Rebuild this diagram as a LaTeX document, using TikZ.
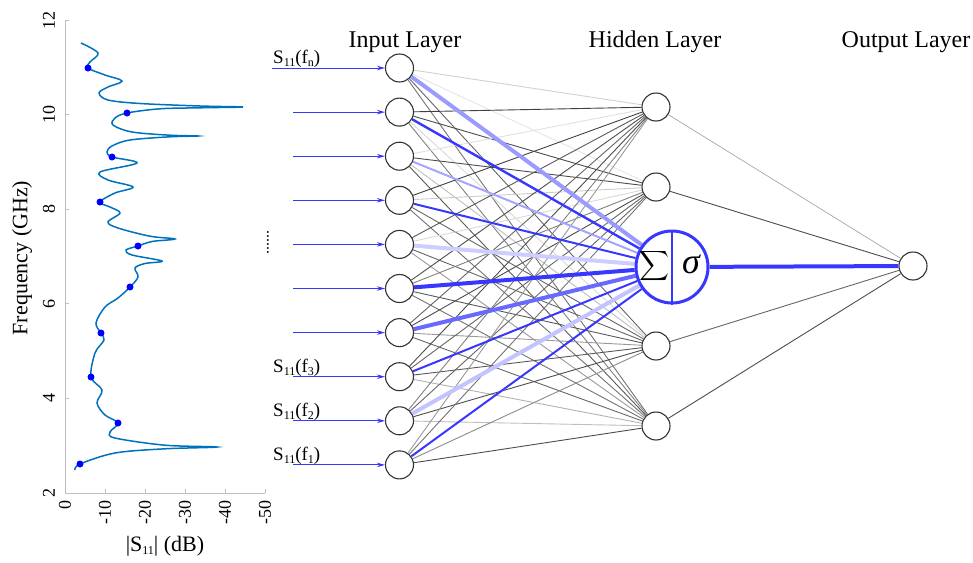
\documentclass[tikz,border=0pt]{standalone}
\usepackage{amsmath}
\usepackage{fontspec}
\setmainfont{Liberation Serif}
\usetikzlibrary{backgrounds,arrows.meta}
\definecolor{netblue}{RGB}{55,55,255}
\definecolor{curveblue}{RGB}{0,114,189}
\definecolor{dotblue}{RGB}{0,0,255}
\newcommand{\mysub}[1]{{\fontsize{12}{12}\selectfont\raisebox{-3.5pt}{#1}}}
\newcommand{\fsz}[1]{\fontsize{#1}{#1}\selectfont}
\begin{document}
\begin{tikzpicture}[x=1pt,y=-1pt,
  neuron/.style={circle,draw=black!80,line width=1.1pt,fill=white,minimum size=28pt,inner sep=0pt},
  sigmanode/.style={circle,draw=netblue,line width=3pt,fill=white,minimum size=72pt,inner sep=0pt},
  glink/.style={line width=0.9pt},
  inarrow/.style={draw=netblue,line width=0.9pt,-{Stealth[length=8pt,width=4.5pt]}},
  header/.style={font=\fsz{24}},
  lab/.style={font=\fsz{19},anchor=base west,inner sep=0pt},
  tick/.style={font=\fsz{18},inner sep=1pt},
  axis/.style={draw=black!25,line width=1pt},
  sdot/.style={circle,fill=dotblue,inner sep=0pt,minimum size=7pt}
]
\useasboundingbox (0,0) rectangle (973,562);

% ---------------- plot ----------------
\draw[axis] (65,20) -- (65,493) -- (265,493);
\foreach \yy in {20,114.6,209.2,303.8,398.4,493}{\draw[axis] (65,\yy) -- (69,\yy);}
\foreach \xx in {65,105,145,185,225,265}{\draw[axis] (\xx,493) -- (\xx,489);}
\foreach \yy/\t in {20/12,114.6/10,209.2/8,303.8/6,398.4/4,493/2}{
  \node[tick,rotate=90] (yt\t) at (49,\yy) {\t};}
\foreach \xx/\t/\n in {65/0/a,105/-10/b,145/-20/c,185/-30/d,225/-40/e,265/-50/f}{
  \node[tick,rotate=90,anchor=east] (xt\n) at (\xx,499) {\t};}
\node[font=\fsz{22},rotate=90] (ylab) at (22,258) {Frequency (GHz)};
\node[font=\fsz{22}] (xlab) at (165,546) {|S\mysub{11}| (dB)};

\draw[curveblue,line width=1.5pt] plot[smooth,tension=0.55] coordinates {
(81,43) (98,53) (90,62) (88,68) (105,75) (122,81) (108,87) (99,93) (108,100)
(140,103.5) (200,106) (243,107) (200,107.8) (160,108.8) (127,113) (115,118) (113,125)
(132,132) (170,135.2) (198,136) (170,136.8) (130,140) (112,146) (107,152) (112,157)
(137,163) (100,172) (108,180) (133,187) (115,193) (100,202) (110,207) (120,213)
(108,222) (118,228) (150,236.2) (175,239) (152,241.5) (138,246) (126,250) (132,255)
(162,261) (145,263.5) (135,268) (138,277) (130,287) (118,298) (105,307) (96,323)
(101,333) (104,340) (95,353) (91,377) (102,390) (97,403) (105,415) (118,423)
(110,432) (115,438) (165,445.2) (217,447) (165,448.8) (115,453) (80,464) (75,470)};
\foreach \x/\y [count=\k] in {88/68,127/113,112/157,100/202,138/246,130/287,101/333,91/377,118/423,80/464}{
  \node[sdot] (d\k) at (\x,\y) {};}

% ---------------- network ----------------
\foreach \k in {1,...,10}{
  \node[neuron] (in\k) at (399.5,{68+44.1*(\k-1)}) {};
  \coordinate (a\k) at (293,{68+44.1*(\k-1)});}
\coordinate (a1) at (272,68);
\node[neuron] (h1) at (656,107) {};
\node[neuron] (h2) at (656,187) {};
\node[neuron] (h3) at (656,346) {};
\node[neuron] (h4) at (656,426) {};
\node[sigmanode] (sig) at (672,267) {};
\draw[netblue,line width=2.2pt] (sig.north) -- (sig.south);
\node[font=\fsz{20},inner sep=0pt] (sumsym) at (654,266) {$\displaystyle\sum$};
\node[font=\fsz{36}\itshape,inner sep=0pt] (sigsym) at (691,264) {σ};
\node[neuron] (out) at (913,266) {};

\node[header] (hin) at (405,42) {Input Layer};
\node[header] (hhid) at (655,42) {Hidden Layer};
\node[header] (hout) at (906,42) {Output Layer};

\foreach \k in {1,...,10}{\draw[inarrow] (a\k) -- (in\k);}
\node[lab] (ln) at (273,63) {S\mysub{11}(f\mysub{n})};
\node[lab] (l3) at (273,372) {S\mysub{11}(f\mysub{3})};
\node[lab] (l2) at (273,416) {S\mysub{11}(f\mysub{2})};
\node[lab] (l1) at (273,460) {S\mysub{11}(f\mysub{1})};
\node[font=\fsz{16},rotate=90] (vdots) at (268,242) {......};

\begin{scope}[on background layer]
\foreach \i/\a/\b/\c/\d in {1/18/10/60/55, 2/75/70/15/50, 3/12/70/25/65, 4/75/20/60/55,
  5/65/15/60/40, 6/70/50/65/55, 7/60/70/40/60, 8/70/60/65/30, 9/50/60/70/25, 10/40/55/45/70}{
  \draw[glink,draw=black!\a] (in\i) -- (h1);
  \draw[glink,draw=black!\b] (in\i) -- (h2);
  \draw[glink,draw=black!\c] (in\i) -- (h3);
  \draw[glink,draw=black!\d] (in\i) -- (h4);}
\foreach \i/\w/\c in {1/4/50, 2/2.4/100, 3/2/45, 4/2/100, 5/4/25, 6/4/100, 7/4/75, 8/2/100, 9/4/30, 10/2/100}{
  \draw[line width=\w pt,draw=netblue!\c] (in\i) -- (sig);}
\draw[glink,draw=black!35,line width=0.7pt] (h1) -- (out);
\draw[glink,draw=black!70] (h2) -- (out);
\draw[glink,draw=black!60] (h3) -- (out);
\draw[glink,draw=black!70] (h4) -- (out);
\draw[netblue,line width=4pt] (sig) -- (out);
\end{scope}
\end{tikzpicture}
\end{document}
